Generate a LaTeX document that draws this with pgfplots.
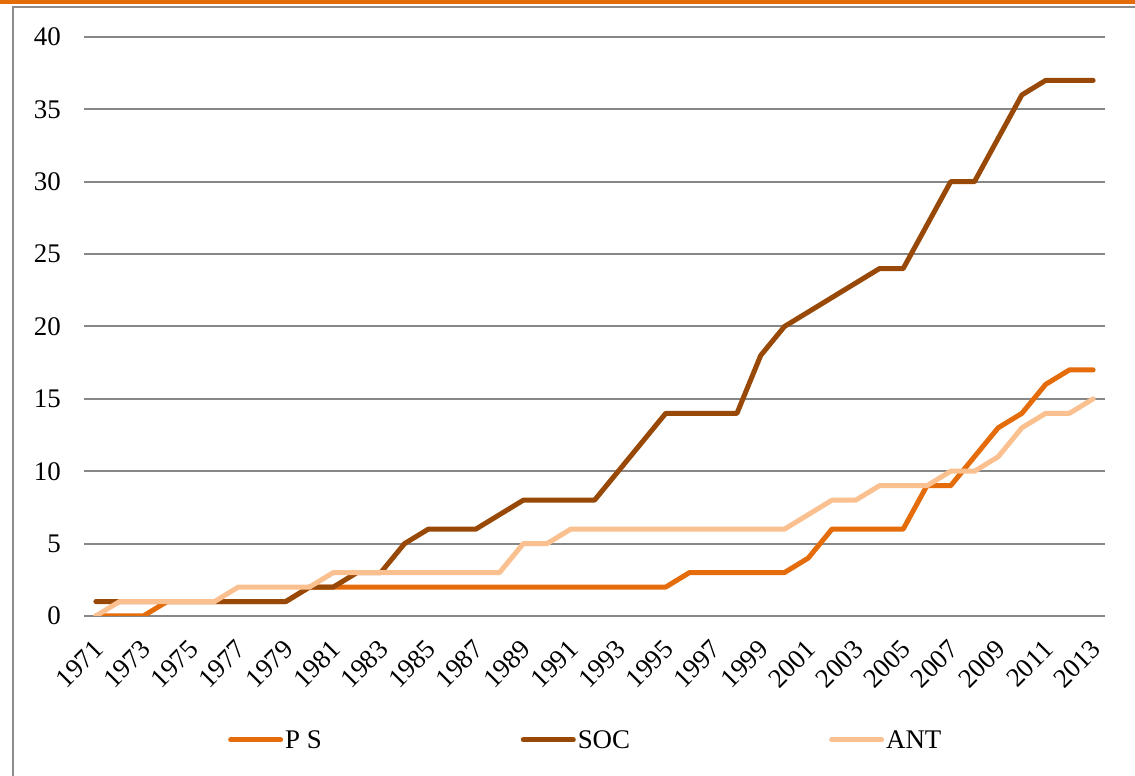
\documentclass[border=0pt]{standalone}
\usepackage{fontspec}
\setmainfont{Liberation Serif}
\usepackage{pgfplots}
\pgfplotsset{compat=1.18}
\definecolor{cPS}{HTML}{E46C0A}
\definecolor{cSOC}{HTML}{984807}
\definecolor{cANT}{HTML}{FAC090}
\definecolor{gridgrey}{HTML}{878787}
\definecolor{framegrey}{HTML}{8C8C8C}
\begin{document}
\begin{tikzpicture}
\path[use as bounding box] (0bp,0bp) rectangle (1135bp,776bp);
\fill[cPS] (0bp,771.5bp) rectangle (1135bp,776bp);
\draw[framegrey, line width=2bp] (12.5bp,0bp) -- (12.5bp,769bp) -- (1135bp,769bp);
\begin{axis}[
  at={(84bp,160bp)}, anchor=south west, scale only axis,
  width=1021bp, height=579bp,
  xmin=1970.5, xmax=2013.5, ymin=0, ymax=40,
  xtick={1971,1973,...,2013},
  ytick={0,5,...,40},
  axis line style={draw=none},
  major tick length=0pt,
  ymajorgrids, grid style={gridgrey, line width=2bp},
  /pgf/number format/.cd, 1000 sep={}, assume math mode=true, /pgfplots/.cd,
  ticklabel style={font=\fontsize{27}{31}\selectfont},
  yticklabel style={anchor=east, inner sep=0pt, xshift=-23bp},
  xticklabel style={inner sep=0pt, xshift=3bp, yshift=-29bp, rotate=45, anchor=east},
  legend style={draw=none, fill=none, inner sep=0pt, at={(0.141,-0.214)}, anchor=west,
    font=\fontsize{27}{31}\selectfont,
    /tikz/every even column/.append style={column sep=197bp}},
  legend columns=3,
  legend image code/.code={\draw[#1, line cap=round] (0bp,0bp) -- (50bp,0bp);},
  every axis plot/.append style={line width=5bp, line cap=round, line join=round},
]
\addplot[cPS] coordinates {
(1971,0)(1972,0)(1973,0)(1974,1)(1975,1)(1976,1)(1977,1)(1978,1)(1979,1)(1980,2)
(1981,2)(1982,2)(1983,2)(1984,2)(1985,2)(1986,2)(1987,2)(1988,2)(1989,2)(1990,2)
(1991,2)(1992,2)(1993,2)(1994,2)(1995,2)(1996,3)(1997,3)(1998,3)(1999,3)(2000,3)
(2001,4)(2002,6)(2003,6)(2004,6)(2005,6)(2006,9)(2007,9)(2008,11)(2009,13)(2010,14)
(2011,16)(2012,17)(2013,17)};
\addplot[cSOC] coordinates {
(1971,1)(1972,1)(1973,1)(1974,1)(1975,1)(1976,1)(1977,1)(1978,1)(1979,1)(1980,2)
(1981,2)(1982,3)(1983,3)(1984,5)(1985,6)(1986,6)(1987,6)(1988,7)(1989,8)(1990,8)
(1991,8)(1992,8)(1993,10)(1994,12)(1995,14)(1996,14)(1997,14)(1998,14)(1999,18)(2000,20)
(2001,21)(2002,22)(2003,23)(2004,24)(2005,24)(2006,27)(2007,30)(2008,30)(2009,33)(2010,36)
(2011,37)(2012,37)(2013,37)};
\addplot[cANT] coordinates {
(1971,0)(1972,1)(1973,1)(1974,1)(1975,1)(1976,1)(1977,2)(1978,2)(1979,2)(1980,2)
(1981,3)(1982,3)(1983,3)(1984,3)(1985,3)(1986,3)(1987,3)(1988,3)(1989,5)(1990,5)
(1991,6)(1992,6)(1993,6)(1994,6)(1995,6)(1996,6)(1997,6)(1998,6)(1999,6)(2000,6)
(2001,7)(2002,8)(2003,8)(2004,9)(2005,9)(2006,9)(2007,10)(2008,10)(2009,11)(2010,13)
(2011,14)(2012,14)(2013,15)};
\legend{P S, SOC, ANT}
\end{axis}
\end{tikzpicture}
\end{document}
